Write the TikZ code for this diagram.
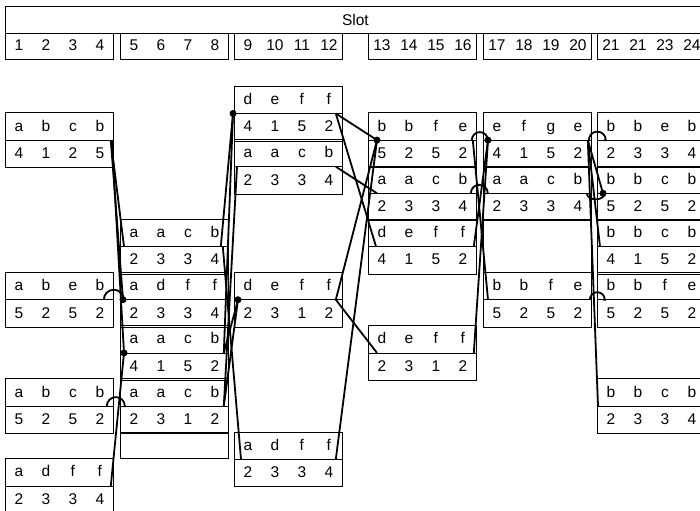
\documentclass[tikz,border=0pt]{standalone}
\usepackage{fontspec}
\setmainfont{Liberation Sans}
\usetikzlibrary{shapes.multipart}

% one row of a record: four slots, 27pt each, fixed height
\newcommand{\fourslots}[4]{{\fontsize{15.5}{15.5}\selectfont\vrule height 18pt depth 8.6pt width 0pt\makebox[27pt]{#1}\makebox[27pt]{#2}\makebox[27pt]{#3}\makebox[27pt]{#4}}}

\begin{document}
\begin{tikzpicture}[
    x=1pt, y=-26.6pt,
    rec/.style={rectangle split, rectangle split parts=2, draw, line width=0.8pt, inner sep=0pt, anchor=north west},
    cell/.style={rectangle, draw, line width=0.8pt, inner sep=0pt, anchor=north west, minimum width=108pt, minimum height=26.6pt, font=\fontsize{15.5}{15.5}\selectfont},
    link/.style={line width=1.8pt},
    dot/.style={circle, fill, inner sep=0pt, minimum size=7pt}
]
\useasboundingbox (0,-3.222) rectangle (700,15.955);
\clip (0,-3.222) rectangle (700,15.955);

% Header
\node[cell, minimum width=700pt] (slot) at (5,-3) {Slot};
\node[cell] (h1) at (5,-2)   {\fourslots{1}{2}{3}{4}};
\node[cell] (h2) at (120,-2) {\fourslots{5}{6}{7}{8}};
\node[cell] (h3) at (234,-2) {\fourslots{9}{10}{11}{12}};
\node[cell] (h4) at (368,-2) {\fourslots{13}{14}{15}{16}};
\node[cell] (h5) at (483,-2) {\fourslots{17}{18}{19}{20}};
\node[cell] (h6) at (597,-2) {\fourslots{21}{21}{23}{24}};

% Slots 1-4
\node[rec] (A)    at (5,1)  {\fourslots{a}{b}{c}{b}\nodepart{two}\fourslots{4}{1}{2}{5}};
\node[rec] (abeb) at (5,7)  {\fourslots{a}{b}{e}{b}\nodepart{two}\fourslots{5}{2}{5}{2}};
\node[rec] (abcb) at (5,11) {\fourslots{a}{b}{c}{b}\nodepart{two}\fourslots{5}{2}{5}{2}};
\node[rec] (addf) at (5,14) {\fourslots{a}{d}{f}{f}\nodepart{two}\fourslots{2}{3}{3}{4}};

% Slots 5-8
\node[rec] (R5)  at (120,5)  {\fourslots{a}{a}{c}{b}\nodepart{two}\fourslots{2}{3}{3}{4}};
\node[rec] (R7)  at (120,7)  {\fourslots{a}{d}{f}{f}\nodepart{two}\fourslots{2}{3}{3}{4}};
\node[rec] (R9)  at (120,9)  {\fourslots{a}{a}{c}{b}\nodepart{two}\fourslots{4}{1}{5}{2}};
\node[rec] (R11) at (120,11) {\fourslots{a}{a}{c}{b}\nodepart{two}\fourslots{2}{3}{1}{2}};
\node[cell] (R13) at (120,13) {};

% Slots 9-12
\node[rec] (T0)  at (234,0)  {\fourslots{d}{e}{f}{f}\nodepart{two}\fourslots{4}{1}{5}{2}};
\node[rec] (T2)  at (234,2)  {\fourslots{a}{a}{c}{b}\nodepart{two}\fourslots{2}{3}{3}{4}};
\node[rec] (M7)  at (234,7)  {\fourslots{d}{e}{f}{f}\nodepart{two}\fourslots{2}{3}{1}{2}};
\node[rec] (B13) at (234,13) {\fourslots{a}{d}{f}{f}\nodepart{two}\fourslots{2}{3}{3}{4}};

% Slots 13-16
\node[rec] (U1) at (368,1) {\fourslots{b}{b}{f}{e}\nodepart{two}\fourslots{5}{2}{5}{2}};
\node[rec] (U3) at (368,3) {\fourslots{a}{a}{c}{b}\nodepart{two}\fourslots{2}{3}{3}{4}};
\node[rec] (U5) at (368,5) {\fourslots{d}{e}{f}{f}\nodepart{two}\fourslots{4}{1}{5}{2}};
\node[rec] (D9) at (368,9) {\fourslots{d}{e}{f}{f}\nodepart{two}\fourslots{2}{3}{1}{2}};

% Slots 17-20
\node[rec] (V1) at (483,1) {\fourslots{e}{f}{g}{e}\nodepart{two}\fourslots{4}{1}{5}{2}};
\node[rec] (V3) at (483,3) {\fourslots{a}{a}{c}{b}\nodepart{two}\fourslots{2}{3}{3}{4}};
\node[cell, minimum height=53.2pt] (V5) at (483,5) {};
\node[rec] (V7) at (483,7) {\fourslots{b}{b}{f}{e}\nodepart{two}\fourslots{5}{2}{5}{2}};

% Slots 21-24
\node[rec] (W1)  at (597,1)  {\fourslots{b}{b}{e}{b}\nodepart{two}\fourslots{2}{3}{3}{4}};
\node[rec] (W3)  at (597,3)  {\fourslots{b}{b}{c}{b}\nodepart{two}\fourslots{5}{2}{5}{2}};
\node[rec] (W5)  at (597,5)  {\fourslots{b}{b}{c}{b}\nodepart{two}\fourslots{4}{1}{5}{2}};
\node[rec] (W7)  at (597,7)  {\fourslots{b}{b}{f}{e}\nodepart{two}\fourslots{5}{2}{5}{2}};
\node[rec] (W11) at (597,11) {\fourslots{b}{b}{c}{b}\nodepart{two}\fourslots{2}{3}{3}{4}};

% Join points
\node[dot] (dR7) at ([xshift=3pt]R7.one split west) {};
\node[dot] (dR9) at ([xshift=4pt]R9.one split west) {};
\node[dot] (dT0) at ([xshift=-1pt]T0.one split west) {};
\node[dot] (dM7) at ([xshift=4pt]M7.one split west) {};
\node[dot] (dU1) at ([xshift=9pt]U1.one split west) {};
\node[dot] (dV1) at ([xshift=5pt]V1.one split west) {};
\node[dot] (dW3) at ([xshift=6pt]W3.one split west) {};

% 1-4 -> 5-8
\draw[link] ([xshift=-3pt]A.one split east) -- ([xshift=4pt]R5.one split west);
\draw[link] ([xshift=-3pt]A.one split east) -- (dR7.center);
\draw[link] ([xshift=-2pt]A.one split east) -- (dR9.center);
\draw[link] ([xshift=-3pt]addf.one split east) -- (dR9.center);
\draw[link] ([xshift=-10pt]abeb.one split east) arc[start angle=180, end angle=0, radius=10pt] -- (dR7.center);
\draw[link] ([xshift=-7pt]abcb.one split east) arc[start angle=180, end angle=0, radius=9pt] -- ([xshift=4pt]R11.one split west);

% 5-8 -> 9-12
\draw[link] ([xshift=-8pt]R5.one split east) -- (dT0.center);
\draw[link] ([xshift=-5pt]R9.one split east) -- (dT0.center);
\draw[link] ([xshift=-5pt]R11.one split east) -- ([xshift=3pt]T2.one split west);
\draw[link] ([xshift=-6pt]R5.one split east) -- ([xshift=7pt]B13.one split west);
\draw[link] ([xshift=-5pt]R9.one split east) -- (dM7.center);
\draw[link] ([xshift=-5pt]R11.one split east) -- (dM7.center);

% 9-12 -> 13-16
\draw[link] ([xshift=-7pt]T0.one split east) -- (dU1.center);
\draw[link] ([xshift=-7pt]T0.one split east) -- ([xshift=8pt]U5.one split west);
\draw[link] ([xshift=-7pt]T2.one split east) -- ([xshift=9pt]U3.one split west);
\draw[link] ([xshift=-7pt]M7.one split east) -- (dU1.center);
\draw[link] ([xshift=-7pt]M7.one split east) -- ([xshift=9pt]D9.one split west);
\draw[link] ([xshift=-7pt]B13.one split east) -- (dU1.center);

% 13-16 -> 17-20
\draw[link] ([xshift=-5pt]U1.one split east) arc[start angle=180, end angle=0, radius=8pt] -- (dV1.center);
\draw[link] ([xshift=-3pt]U5.one split east) -- (dV1.center);
\draw[link] ([xshift=-3pt]D9.one split east) -- (dV1.center);
\draw[link] ([xshift=-4pt]U1.one split east) -- ([xshift=5pt]V7.one split west);
\draw[link] ([xshift=-6pt]U3.one split east) arc[start angle=180, end angle=0, radius=8.5pt] -- ([xshift=4pt]V3.one split west);

% 17-20 -> 21-24
\draw[link] ([xshift=-3pt]V1.one split east) arc[start angle=180, end angle=0, radius=8.5pt] -- ([xshift=7pt]W1.one split west);
\draw[link] ([xshift=-4pt]V1.one split east) -- (dW3.center);
\draw[link] ([xshift=-5pt]V3.one split east) arc[start angle=180, end angle=360, x radius=9pt, y radius=6pt] -- (dW3.center);
\draw[link] ([xshift=-4pt]V1.one split east) -- ([xshift=3pt]W5.one split west);
\draw[link] ([xshift=-4pt]V1.one split east) -- ([xshift=1pt]W11.one split west);
\draw[link] ([xshift=-2pt]V7.one split east) arc[start angle=180, end angle=0, radius=7.5pt] -- ([xshift=6pt]W7.one split west);

\end{tikzpicture}
\end{document}
